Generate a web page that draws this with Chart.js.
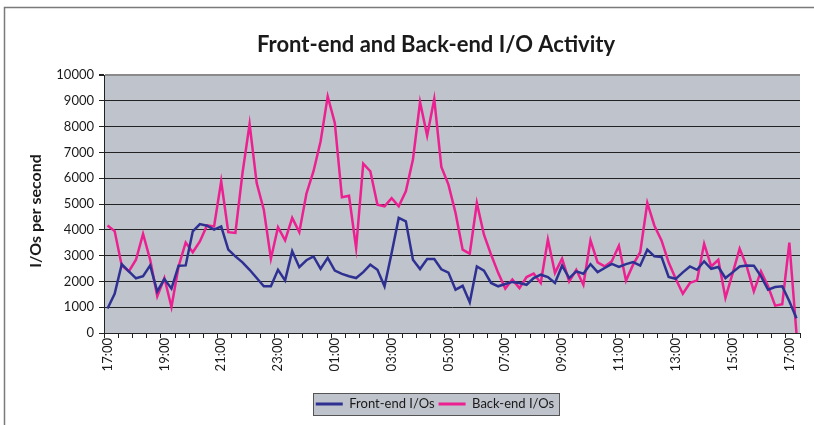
<!DOCTYPE html>
<html>
<head>
<meta charset="utf-8">
<script src="https://cdn.jsdelivr.net/npm/chart.js@4.4.1/dist/chart.umd.min.js"></script>
<style>
  html, body { margin: 0; padding: 0; background: #ffffff; }
  canvas { display: block; }
</style>
</head>
<body>
<canvas id="chart" width="814" height="425"></canvas>
<script>
const chartTitle = 'Front-end and Back-end I/O Activity';
const yAxisTitle = 'I/Os per second';
const seriesNames = ['Front-end I/Os', 'Back-end I/Os'];

const categories = [
  '17:00','17:15','17:30','17:45','18:00','18:15','18:30','18:45',
  '19:00','19:15','19:30','19:45','20:00','20:15','20:30','20:45',
  '21:00','21:15','21:30','21:45','22:00','22:15','22:30','22:45',
  '23:00','23:15','23:30','23:45','00:00','00:15','00:30','00:45',
  '01:00','01:15','01:30','01:45','02:00','02:15','02:30','02:45',
  '03:00','03:15','03:30','03:45','04:00','04:15','04:30','04:45',
  '05:00','05:15','05:30','05:45','06:00','06:15','06:30','06:45',
  '07:00','07:15','07:30','07:45','08:00','08:15','08:30','08:45',
  '09:00','09:15','09:30','09:45','10:00','10:15','10:30','10:45',
  '11:00','11:15','11:30','11:45','12:00','12:15','12:30','12:45',
  '13:00','13:15','13:30','13:45','14:00','14:15','14:30','14:45',
  '15:00','15:15','15:30','15:45','16:00','16:15','16:30','16:45',
  '17:00','17:15'
];

const tickLabels = ['17:00','19:00','21:00','23:00','01:00','03:00','05:00','07:00','09:00','11:00','13:00','15:00','17:00'];

const frontEnd = [
  950,1520,2670,2390,2120,2200,2620,1610,2090,1720,
  2610,2620,3940,4220,4160,4010,4130,3230,2970,2740,
  2450,2130,1810,1810,2450,2040,3170,2550,2820,2970,
  2490,2910,2420,2290,2200,2130,2360,2650,2450,1810,
  3100,4460,4330,2840,2480,2870,2870,2470,2340,1680,
  1830,1190,2580,2420,1940,1810,1900,1980,1940,1870,
  2130,2260,2170,1940,2610,2130,2390,2300,2670,2360,
  2520,2680,2560,2670,2750,2610,3230,2970,2950,2170,
  2100,2350,2580,2450,2780,2490,2560,2130,2350,2580,
  2620,2610,2200,1680,1780,1810,1230,570
];

const backEnd = [
  4170,3950,2610,2390,2840,3840,2840,1420,2130,1010,
  2580,3510,3130,3550,4170,4130,5880,3910,3880,6200,
  8100,5810,4780,2880,4100,3590,4460,3910,5400,6270,
  7430,9170,8140,5260,5320,3290,6560,6270,4970,4910,
  5230,4910,5490,6720,8950,7650,9070,6440,5750,4650,
  3230,3070,5040,3810,3040,2330,1720,2070,1740,2170,
  2300,1940,3620,2330,2880,2000,2450,1870,3590,2740,
  2580,2780,3380,2030,2650,3130,5040,4160,3590,2740,
  2100,1520,1940,2040,3460,2580,2840,1360,2300,3270,
  2580,1610,2390,1810,1060,1120,3500,0
];

const yMin = 0, yMax = 10000, yStep = 1000;

const COLORS = { front: '#2E3192', back: '#EC2090', plot: '#BFC3CB', axis: '#222222', text: '#1a1a1a' };
const FONT = 'Lato';
const LEGEND_SHIFT = 35;

const excelFrame = {
  id: 'excelFrame',
  afterLayout(chart) {
    const lg = chart.legend;
    if (lg) { lg.left += LEGEND_SHIFT; lg.right += LEGEND_SHIFT; }
  },
  beforeDraw(chart) {
    const { ctx, chartArea: a } = chart;
    ctx.save();
    ctx.fillStyle = '#ffffff';
    ctx.fillRect(0, 0, chart.width, chart.height);
    // outer chart frame
    ctx.strokeStyle = '#7a7a7a';
    ctx.lineWidth = 1.5;
    ctx.beginPath();
    ctx.moveTo(4.5, chart.height);
    ctx.lineTo(4.5, 7.5);
    ctx.lineTo(chart.width, 7.5);
    ctx.stroke();
    // plot area
    ctx.fillStyle = COLORS.plot;
    ctx.fillRect(a.left, a.top, a.right - a.left, a.bottom - a.top);
    // legend frame
    const lg = chart.legend;
    if (lg && lg.legendHitBoxes && lg.legendHitBoxes.length) {
      const hb = lg.legendHitBoxes;
      const last = hb[hb.length - 1];
      const l = Math.round(hb[0].left - 3) + 0.5;
      const r = Math.round(last.left + last.width + 5) + 0.5;
      const cy = hb[0].top + hb[0].height / 2;
      const t = Math.round(cy - 11) + 0.5;
      ctx.fillStyle = COLORS.plot;
      ctx.fillRect(l, t, r - l, 22);
      ctx.strokeStyle = '#555555';
      ctx.lineWidth = 1;
      ctx.strokeRect(l, t, r - l, 22);
    }
    // title
    ctx.fillStyle = COLORS.text;
    ctx.textAlign = 'center';
    ctx.textBaseline = 'alphabetic';
    ctx.font = `bold 22px ${FONT}`;
    ctx.fillText(chartTitle, 436, 52);
    // y axis title
    ctx.translate(36, 211);
    ctx.rotate(-Math.PI / 2);
    ctx.font = `bold 16px ${FONT}`;
    ctx.textBaseline = 'middle';
    ctx.fillText(yAxisTitle, 0, 0);
    ctx.restore();
  }
};

function build() {
  const evenTick = (ctx) => (ctx.index === undefined || ctx.index % 2 === 0) ? COLORS.axis : 'rgba(0,0,0,0)';
  new Chart(document.getElementById('chart'), {
    type: 'line',
    data: {
      labels: categories,
      datasets: [
        { label: seriesNames[0], data: frontEnd, borderColor: COLORS.front, backgroundColor: COLORS.front,
          borderWidth: 2.5, pointRadius: 0, tension: 0, fill: false },
        { label: seriesNames[1], data: backEnd, borderColor: COLORS.back, backgroundColor: COLORS.back,
          borderWidth: 2.5, pointRadius: 0, tension: 0, fill: false }
      ]
    },
    plugins: [excelFrame],
    options: {
      responsive: false,
      animation: false,
      devicePixelRatio: 1,
      layout: { padding: { top: 75, left: 0, right: 14, bottom: 4.5 } },
      plugins: {
        title: { display: false },
        tooltip: { enabled: false },
        legend: {
          display: true,
          position: 'bottom',
          labels: {
            color: COLORS.text,
            font: { family: FONT, size: 13 },
            boxWidth: 27,
            boxHeight: 3,
            padding: 4,
            generateLabels(chart) {
              return Chart.defaults.plugins.legend.labels.generateLabels(chart).map(it => {
                it.lineWidth = 0;
                it.fillStyle = it.strokeStyle;
                return it;
              });
            }
          }
        }
      },
      scales: {
        x: {
          type: 'category',
          offset: true,
          grid: {
            offset: true,
            drawOnChartArea: false,
            drawTicks: true,
            tickLength: 5,
            color: evenTick,
            tickColor: evenTick
          },
          border: { display: true, color: COLORS.axis, width: 1 },
          ticks: {
            autoSkip: false,
            maxRotation: 90,
            minRotation: 90,
            padding: 0,
            color: COLORS.text,
            font: { family: FONT, size: 13 },
            callback: (val, idx) => (idx % 8 === 0 ? tickLabels[idx / 8] : '')
          },
          afterFit: (scale) => { scale.height = 60.5; }
        },
        y: {
          min: yMin,
          max: yMax,
          grid: {
            color: (ctx) => (ctx.tick && ctx.tick.value === yMax) ? '#8a8a8a' : COLORS.axis,
            lineWidth: (ctx) => (ctx.tick && ctx.tick.value === yMax) ? 2 : 1,
            tickColor: COLORS.axis,
            tickLength: 5,
            drawTicks: true
          },
          border: { display: true, color: COLORS.axis, width: 1 },
          ticks: {
            stepSize: yStep,
            padding: 5,
            color: COLORS.text,
            font: { family: FONT, size: 13 },
            callback: (v) => String(v)
          },
          afterFit: (scale) => { scale.width = 104; }
        }
      }
    }
  });
}

if (document.fonts && document.fonts.load) {
  Promise.all([
    document.fonts.load(`bold 22px ${FONT}`),
    document.fonts.load(`13px ${FONT}`)
  ]).then(build, build);
} else {
  build();
}
</script>
</body>
</html>
